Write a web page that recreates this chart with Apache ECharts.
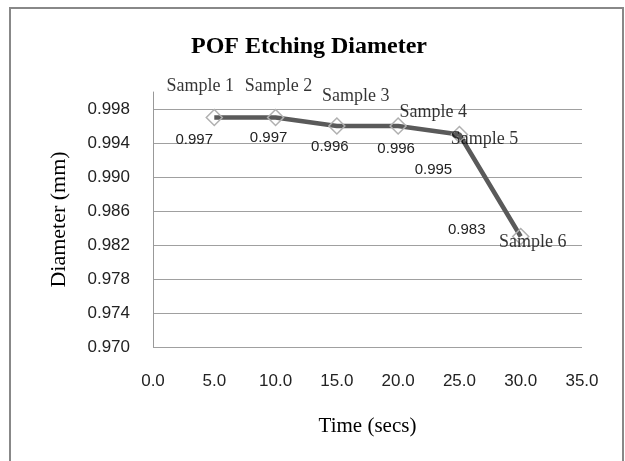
<!DOCTYPE html>
<html>
<head>
<meta charset="utf-8">
<script src="https://cdn.jsdelivr.net/npm/echarts@6/dist/echarts.min.js"></script>
<style>
  html, body { margin: 0; padding: 0; background: #fff; }
  #chart { width: 625px; height: 461px; }
</style>
</head>
<body>
<div id="chart"></div>
<script>
var timeSecs = [5, 10, 15, 20, 25, 30];
var diameter = [0.997, 0.997, 0.996, 0.996, 0.995, 0.983];
var sampleNames = ['Sample 1', 'Sample 2', 'Sample 3', 'Sample 4', 'Sample 5', 'Sample 6'];

// label offsets from each point (px), as placed in the original
var nameOffsets = [[-14, -31], [3, -31], [19, -30], [35, -14], [25, 5], [12, 6]];
var valueOffsets = [[-20, 22], [-7, 20], [-7, 21], [-2, 23], [-26, 35], [-54, -7]];

var serif = '"Liberation Serif", "Times New Roman", serif';
var sans = '"Liberation Sans", Arial, sans-serif';

var chart = echarts.init(document.getElementById('chart'));

var lineData = timeSecs.map(function (t, i) {
  return {
    value: [t, diameter[i]],
    label: { offset: valueOffsets[i] }
  };
});
var nameData = timeSecs.map(function (t, i) {
  return {
    value: [t, diameter[i]],
    name: sampleNames[i],
    label: { offset: nameOffsets[i] }
  };
});

var option = {
  animation: false,
  backgroundColor: '#fff',
  title: {
    text: 'POF Etching Diameter',
    left: 186,
    top: 30,
    textStyle: { fontFamily: serif, fontSize: 24, fontWeight: 'bold', color: '#000' }
  },
  graphic: [{
    type: 'rect',
    shape: { x: 10, y: 8, width: 613, height: 470 },
    style: { fill: 'none', stroke: '#888', lineWidth: 2 },
    silent: true
  }],
  grid: { left: 153, right: 43, top: 92, bottom: 114 },
  xAxis: {
    type: 'value',
    min: 0, max: 35, interval: 5,
    name: 'Time (secs)',
    nameLocation: 'middle',
    nameGap: 69,
    nameTextStyle: { fontFamily: serif, fontSize: 21, color: '#000' },
    axisLine: { show: false },
    axisTick: { show: false },
    splitLine: { show: false },
    axisLabel: {
      margin: 26,
      fontFamily: sans, fontSize: 17, color: '#222',
      formatter: function (v) { return v.toFixed(1); }
    }
  },
  yAxis: {
    type: 'value',
    min: 0.970, max: 1.000, interval: 0.004,
    name: 'Diameter (mm)',
    nameLocation: 'middle',
    nameGap: 83,
    nameTextStyle: { fontFamily: serif, fontSize: 22, color: '#000' },
    axisLine: { show: true, lineStyle: { color: '#999', width: 1 } },
    axisTick: { show: false },
    splitLine: { show: true, showMaxLine: false, lineStyle: { color: '#a0a0a0', width: 1 } },
    axisLabel: {
      margin: 23,
      showMaxLabel: false,
      fontFamily: sans, fontSize: 17, color: '#222',
      formatter: function (v) { return v.toFixed(3); }
    }
  },
  series: [
    {
      type: 'line',
      data: lineData,
      symbol: 'diamond',
      symbolSize: 16,
      lineStyle: { color: '#5a5a5a', width: 4.5 },
      itemStyle: { color: 'rgba(255,255,255,0)', borderColor: '#b0b0b0', borderWidth: 1.5 },
      label: {
        show: true,
        position: 'inside',
        fontFamily: sans, fontSize: 15, color: '#222',
        formatter: function (p) { return p.value[1].toFixed(3); }
      },
      z: 3
    },
    {
      type: 'scatter',
      data: nameData,
      symbolSize: 0,
      label: {
        show: true,
        position: 'inside',
        fontFamily: serif, fontSize: 18, color: '#000',
        formatter: function (p) { return p.name; }
      },
      z: 4
    }
  ]
};

chart.setOption(option);
</script>
</body>
</html>
